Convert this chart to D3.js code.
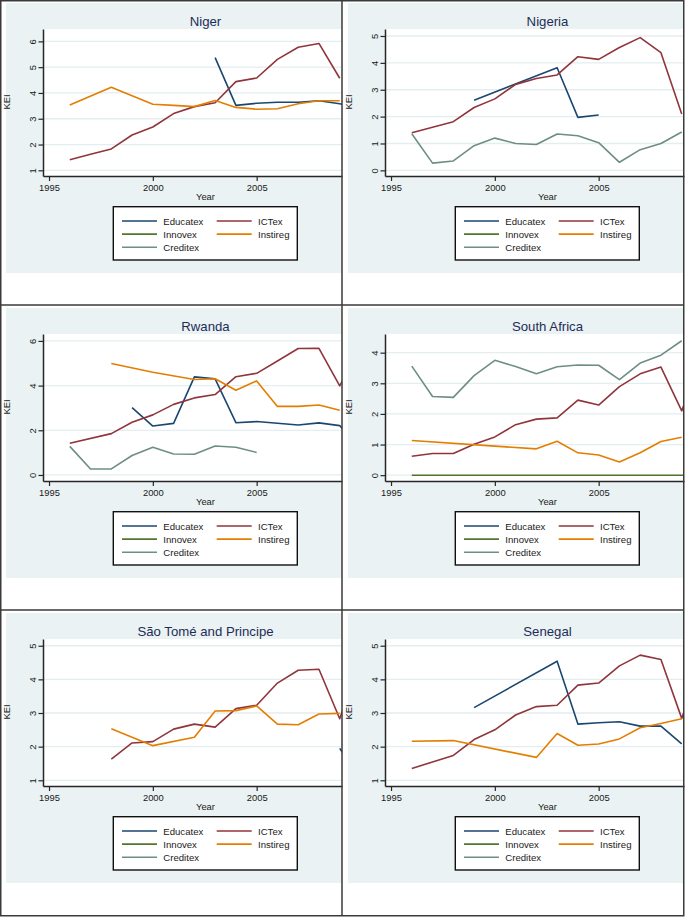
<!DOCTYPE html>
<html>
<head>
<meta charset="utf-8">
<script src="https://cdn.jsdelivr.net/npm/d3@7"></script>
<style>
  html, body { margin: 0; padding: 0; background: #ffffff; }
  svg { display: block; font-family: "Liberation Sans", Arial, Helvetica, sans-serif; }
</style>
</head>
<body>
<svg id="chart" width="685" height="917"></svg>
<script>
// ---------------- DATA ----------------
const years = [1996, 1997, 1998, 1999, 2000, 2001, 2002, 2003, 2004, 2005, 2006, 2007, 2008, 2009, 2010];
const seriesNames = ["Educatex", "ICTex", "Innovex", "Instireg", "Creditex"];
const countries = ["Niger", "Nigeria", "Rwanda", "South Africa", "São Tomé and Principe", "Senegal"];
const xTicks = [1995, 2000, 2005];
const xLabel = "Year";
const yLabel = "KEI";

const N = null;
const emptySeries = [N, N, N, N, N, N, N, N, N, N, N, N, N, N, N];

// Niger
const nigerEducatex = [N, N, N, N, N, N, N, 5.37, 3.52, 3.60, 3.64, 3.64, 3.70, 3.58, 3.40];
const nigerICTex    = [1.41, 1.62, 1.83, 2.37, 2.68, 3.20, 3.47, 3.62, 4.44, 4.58, 5.30, 5.77, 5.92, 4.57, N];
const nigerInstireg = [3.53, N, 4.22, N, 3.56, 3.52, 3.47, 3.71, 3.44, 3.37, 3.39, 3.58, 3.70, 3.70, N];
const nigerYTicks = [1, 2, 3, 4, 5, 6];

// Nigeria
const nigeriaEducatex = [N, N, N, 2.61, N, N, N, 3.82, 1.97, 2.06, N, N, N, N, N];
const nigeriaICTex    = [1.40, N, 1.81, 2.34, 2.66, 3.20, 3.42, 3.55, 4.23, 4.13, 4.57, 4.94, 4.38, 2.10, N];
const nigeriaCreditex = [1.36, 0.27, 0.35, 0.92, 1.20, 1.00, 0.96, 1.35, 1.29, 1.03, 0.30, 0.77, 1.00, 1.43, N];
const nigeriaYTicks = [0, 1, 2, 3, 4, 5];

// Rwanda
const rwandaEducatex = [N, N, N, 3.01, 2.19, 2.31, 4.39, 4.30, 2.34, 2.39, N, 2.24, 2.33, 2.21, 1.10];
const rwandaICTex    = [1.42, N, 1.85, 2.36, 2.69, 3.16, 3.45, 3.60, 4.40, 4.55, 5.10, 5.66, 5.67, 3.99, 5.70];
const rwandaInstireg = [N, N, 4.99, N, 4.60, N, 4.27, 4.31, 3.79, 4.21, 3.07, 3.07, 3.13, 2.90, N];
const rwandaCreditex = [1.28, 0.27, 0.27, 0.87, 1.24, 0.94, 0.93, 1.30, 1.24, 1.01, N, N, N, N, N];
const rwandaYTicks = [0, 2, 4, 6];

// South Africa
const saICTex    = [0.62, 0.71, 0.71, 1.01, 1.25, 1.65, 1.83, 1.87, 2.45, 2.29, 2.89, 3.31, 3.53, 2.10, 3.90];
const saInnovex  = [0, 0, 0, 0, 0, 0, 0, 0, 0, 0, 0, 0, 0, 0, 0];
const saInstireg = [1.13, N, N, N, 0.95, N, 0.86, 1.11, 0.73, 0.66, 0.43, 0.73, 1.10, 1.24, N];
const saCreditex = [3.56, 2.57, 2.54, 3.25, 3.75, 3.55, 3.31, 3.54, 3.60, 3.59, 3.12, 3.66, 3.92, 4.39, N];
const saYTicks = [0, 1, 2, 3, 4];

// São Tomé and Principe
const stpEducatex = [N, N, N, N, N, N, N, N, N, N, N, N, N, 1.95, 1.00];
const stpICTex    = [N, N, 1.63, 2.11, 2.15, 2.52, 2.67, 2.58, 3.13, 3.23, 3.89, 4.27, 4.30, 2.83, 4.60];
const stpInstireg = [N, N, 2.53, N, 2.03, N, 2.28, 3.06, 3.07, 3.21, 2.67, 2.65, 2.97, 2.99, N];
const stpYTicks = [1, 2, 3, 4, 5];

// Senegal
const senEducatex = [N, N, N, 3.16, N, N, N, 4.54, 2.67, 2.71, 2.74, 2.61, 2.61, 2.08, N];
const senICTex    = [1.35, N, 1.74, 2.21, 2.50, 2.94, 3.19, 3.23, 3.83, 3.89, 4.40, 4.72, 4.59, 2.84, 4.60];
const senInstireg = [2.16, N, 2.18, N, N, N, 1.68, 2.39, 2.04, 2.08, 2.23, 2.56, 2.69, 2.83, N];
const senYTicks = [1, 2, 3, 4, 5];

// per-panel series in order of seriesNames
const panelSeries = [
  [nigerEducatex, nigerICTex, emptySeries, nigerInstireg, emptySeries],
  [nigeriaEducatex, nigeriaICTex, emptySeries, emptySeries, nigeriaCreditex],
  [rwandaEducatex, rwandaICTex, emptySeries, rwandaInstireg, rwandaCreditex],
  [emptySeries, saICTex, saInnovex, saInstireg, saCreditex],
  [stpEducatex, stpICTex, emptySeries, stpInstireg, emptySeries],
  [senEducatex, senICTex, emptySeries, senInstireg, emptySeries]
];
const panelYTicks = [nigerYTicks, nigeriaYTicks, rwandaYTicks, saYTicks, stpYTicks, senYTicks];

// ---------------- LAYOUT / STYLE ----------------
const colors = ["#1a476f", "#90353b", "#55752f", "#e37e00", "#6e8e84"];
const panelYDomains = [[0.78, 6.48], [-0.21, 5.26], [-0.27, 6.31], [-0.19, 4.61], [0.83, 5.2], [0.83, 5.2]];
const cellW = 342, cellH = 305;
const plot = { left: 43, right: 342, top: 29, bottom: 176 };
const bgColor = "#eaf2f3";
const gridColor = "#e4edef";
const axisColor = "#262626";

const svg = d3.select("#chart");
const defs = svg.append("defs");

const lineGen = d3.line();

countries.forEach((country, i) => {
  const cx = (i % 2) * cellW;
  const cy = Math.floor(i / 2) * cellH;
  const g = svg.append("g").attr("transform", `translate(${cx},${cy})`);

  // clip for the cell (the original figure is cropped at the right)
  const clipId = "clip" + i;
  defs.append("clipPath").attr("id", clipId)
    .append("rect").attr("x", cx + plot.left).attr("y", cy + plot.top - 2)
    .attr("width", plot.right - plot.left).attr("height", plot.bottom - plot.top + 4);

  // graph region background
  g.append("rect").attr("x", 6).attr("y", 3).attr("width", cellW - 6).attr("height", 270)
    .attr("fill", bgColor);

  // plot region
  g.append("rect").attr("x", plot.left).attr("y", plot.top)
    .attr("width", plot.right - plot.left).attr("height", plot.bottom - plot.top)
    .attr("fill", "#ffffff");

  const x = d3.scaleLinear().domain([1994.71, 2009.11]).range([plot.left, plot.right]);
  const y = d3.scaleLinear().domain(panelYDomains[i]).range([plot.bottom, plot.top]);
  const yTicks = panelYTicks[i];

  // gridlines
  g.append("g").selectAll("line").data(yTicks).join("line")
    .attr("x1", plot.left).attr("x2", plot.right)
    .attr("y1", d => y(d)).attr("y2", d => y(d))
    .attr("stroke", gridColor).attr("stroke-width", 1.3);

  // series
  const lines = svg.append("g").attr("clip-path", `url(#${clipId})`)
    .append("g").attr("transform", `translate(${cx},${cy})`);
  panelSeries[i].forEach((vals, s) => {
    const pts = years.map((yr, k) => [yr, vals[k]]).filter(p => p[1] !== null);
    if (pts.length < 2) return;
    lines.append("path")
      .attr("d", lineGen.x(p => x(p[0])).y(p => y(p[1]))(pts))
      .attr("fill", "none").attr("stroke", colors[s]).attr("stroke-width", 1.6)
      .attr("stroke-linejoin", "round");
  });

  // y axis
  const yAxis = g.append("g").attr("transform", `translate(${plot.left},0)`)
    .call(d3.axisLeft(y).tickValues(yTicks).tickSize(4.5).tickSizeOuter(0).tickFormat(d3.format("d")));
  yAxis.selectAll("text")
    .attr("x", null).attr("dy", null)
    .attr("transform", "translate(-7,0) rotate(-90)")
    .attr("text-anchor", "middle")
    .attr("font-size", 9.4).attr("fill", "#1a1a1a");

  // x axis
  const xAxis = g.append("g").attr("transform", `translate(0,${plot.bottom})`)
    .call(d3.axisBottom(x).tickValues(xTicks).tickSize(5).tickSizeOuter(0).tickFormat(d3.format("d")));
  xAxis.selectAll("text").attr("font-size", 9.4).attr("fill", "#1a1a1a");

  [yAxis, xAxis].forEach(ax => {
    ax.attr("font-family", null);
    ax.select(".domain").attr("stroke", axisColor).attr("stroke-width", 1.5);
    ax.selectAll(".tick line").attr("stroke", axisColor).attr("stroke-width", 1.2);
  });

  // axis titles
  g.append("text").attr("x", 205.5).attr("y", 200).attr("text-anchor", "middle")
    .attr("font-size", 9.4).attr("fill", "#1a1a1a").text(xLabel);
  g.append("text").attr("transform", `translate(9.5,102) rotate(-90)`).attr("text-anchor", "middle")
    .attr("font-size", 9.4).attr("fill", "#1a1a1a").text(yLabel);

  // title
  g.append("text").attr("x", 205.5).attr("y", 26).attr("text-anchor", "middle")
    .attr("font-size", 13.2).attr("fill", "#1e2d57").text(country);

  // legend
  const lg = g.append("g");
  lg.append("rect").attr("x", 113.3).attr("y", 206.7).attr("width", 184).attr("height", 53.3)
    .attr("fill", "#ffffff").attr("stroke", "#111").attr("stroke-width", 1.4);
  seriesNames.forEach((name, s) => {
    const col = s % 2, row = Math.floor(s / 2);
    const lx = col === 0 ? 122 : 216.7;
    const ly = 221 + row * 13.1;
    lg.append("line").attr("x1", lx).attr("x2", lx + 35).attr("y1", ly).attr("y2", ly)
      .attr("stroke", colors[s]).attr("stroke-width", 1.6);
    lg.append("text").attr("x", lx + 41.3).attr("y", ly + 3.5)
      .attr("font-size", 9.6).attr("fill", "#1a1a1a").text(name);
  });
});

// frame and dividers
const frame = svg.append("g").attr("stroke", "#3a3a3a").attr("stroke-width", 1.5).attr("fill", "none");
frame.append("rect").attr("x", 0.75).attr("y", 0.75).attr("width", 683).attr("height", 915);
frame.append("line").attr("x1", 342).attr("x2", 342).attr("y1", 0).attr("y2", 916);
frame.append("line").attr("x1", 0).attr("x2", 684).attr("y1", 305).attr("y2", 305);
frame.append("line").attr("x1", 0).attr("x2", 684).attr("y1", 610).attr("y2", 610);
</script>
</body>
</html>
